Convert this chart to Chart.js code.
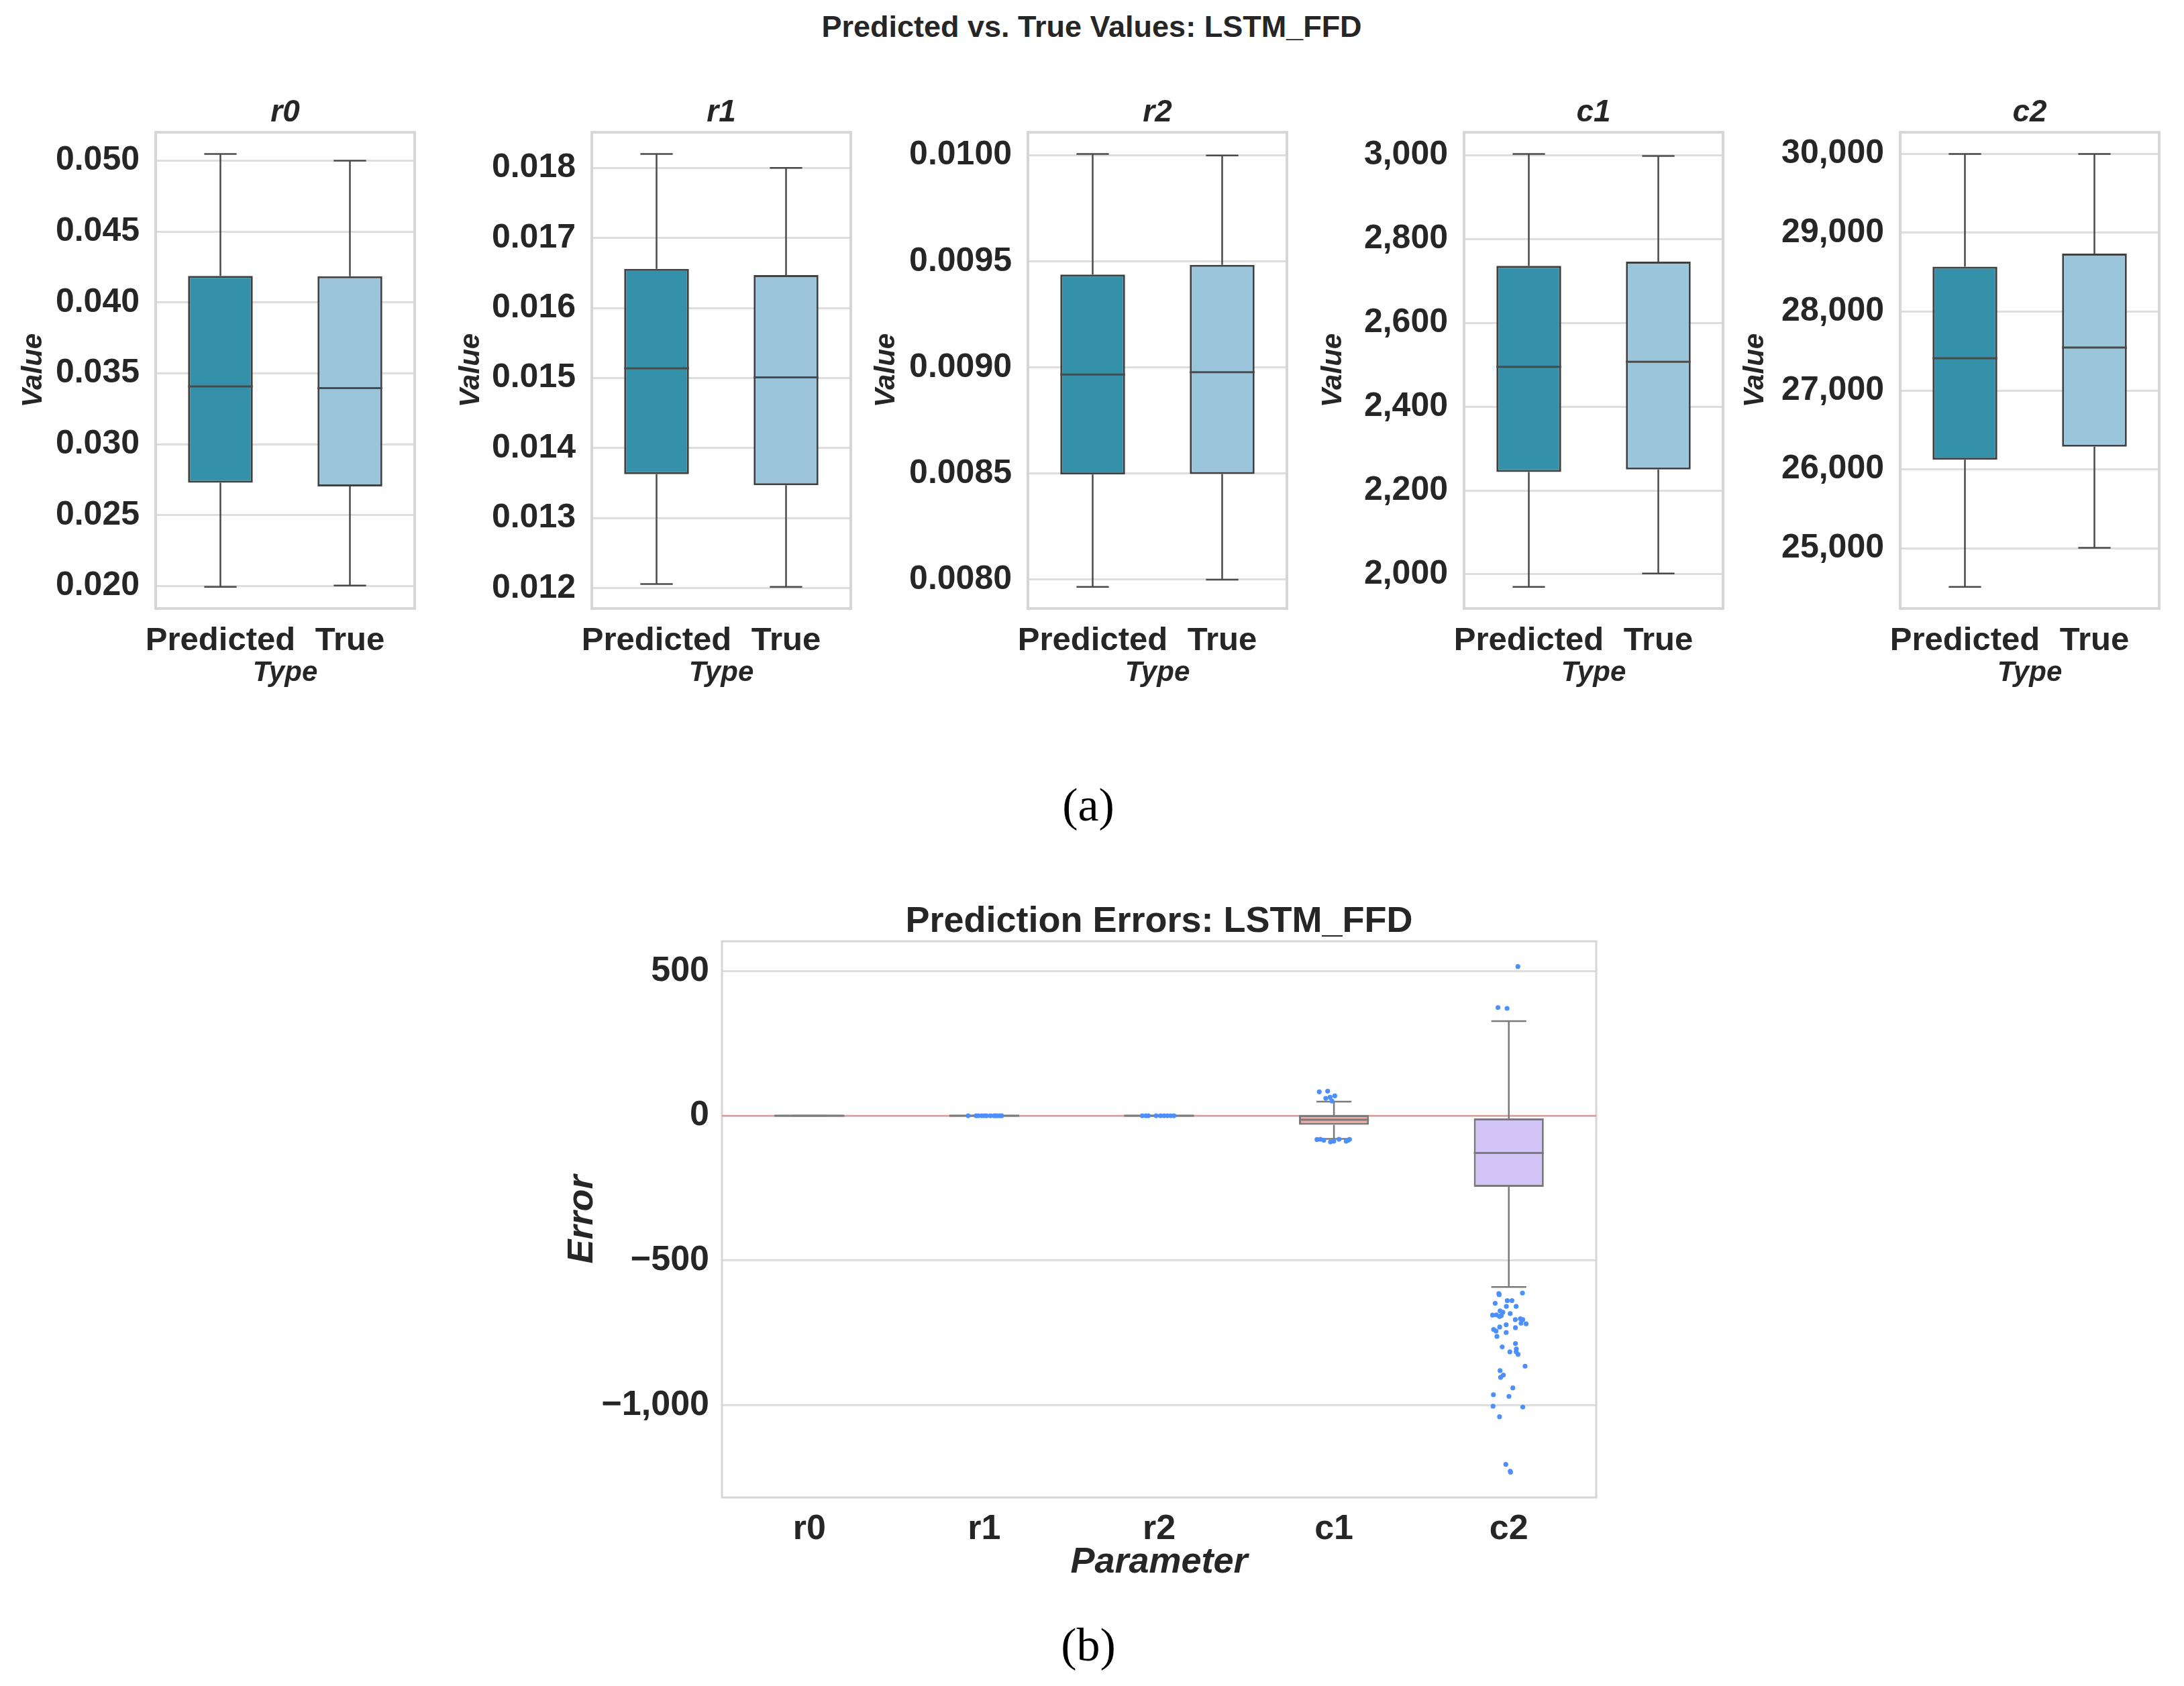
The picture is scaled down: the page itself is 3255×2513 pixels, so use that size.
<!DOCTYPE html>
<html>
<head>
<meta charset="utf-8">
<title>Predicted vs. True Values: LSTM_FFD</title>
<script src="https://cdn.jsdelivr.net/npm/chart.js@4.4.1/dist/chart.umd.min.js"></script>
<style>
  html, body { margin: 0; padding: 0; background: #fff; }
  body { width: 3255px; height: 2513px; position: relative; overflow: hidden;
         font-family: 'Liberation Sans', Arial, sans-serif; color: #262626; }
  .panel { position: absolute; }
  #suptitle { position: absolute; left: 1627px; top: 17px; transform: translateX(-50%);
              font-weight: bold; font-size: 45px; line-height: 1; white-space: nowrap; }
  .caption { position: absolute; left: 1622px; transform: translateX(-50%);
             font-family: 'Liberation Serif', 'DejaVu Serif', serif; font-size: 70px; line-height: 1; color: #000; }
</style>
</head>
<body>
<div id="suptitle">Predicted vs. True Values: LSTM_FFD</div>
<div id="panels"></div>
<div class="panel" style="left:820px; top:1330px; width:1579px; height:1042px;"><canvas id="errChart"></canvas></div>
<div class="caption" style="top:1165px;">(a)</div>
<div class="caption" style="top:2417px;">(b)</div>

<script>
// ─── Data: panel (a) ───
const params = ['r0', 'r1', 'r2', 'c1', 'c2'];
const types = ['Predicted', 'True'];

// [lower whisker, Q1, median, Q3, upper whisker]
const predictedStats = [
    [0.01994, 0.02728, 0.03408, 0.04187, 0.05047],
    [0.01206, 0.01363, 0.01514, 0.01656, 0.01820],
    [0.007966, 0.008496, 0.008967, 0.009438, 0.010007],
    [1970, 2244, 2495, 2736, 3003],
    [24510, 26122, 27409, 28571, 30000]
];
const trueStats = [
    [0.02003, 0.02703, 0.03396, 0.04184, 0.05000],
    [0.01202, 0.01347, 0.01501, 0.01647, 0.01800],
    [0.00800, 0.008498, 0.008978, 0.009484, 0.01000],
    [2002, 2250, 2507, 2746, 2998],
    [25006, 26287, 27546, 28736, 30000]
];
const valueTicks = [
    [0.020, 0.025, 0.030, 0.035, 0.040, 0.045, 0.050],
    [0.012, 0.013, 0.014, 0.015, 0.016, 0.017, 0.018],
    [0.0080, 0.0085, 0.0090, 0.0095, 0.0100],
    [2000, 2200, 2400, 2600, 2800, 3000],
    [25000, 26000, 27000, 28000, 29000, 30000]
];
const tickDecimals = [3, 3, 4, 0, 0];

// ─── Data: panel (b) ───
const errLow = [0, 0, 0, -79.6, -591.4];
const errQ1 = [0, 0, 0, -30.9, -245.8];
const errMedian = [0, 0, 0, -13.9, -128.5];
const errQ3 = [0, 0, 0, 2.3, -9.3];
const errHigh = [0, 0, 0, 48.7, 327];
const errTicks = [-1000, -500, 0, 500];

// outliers: [jitter from category centre, error]
const r1Outliers = [[-0.092, 0], [-0.047, 0], [-0.034, 0], [-0.015, 0], [0.000, 0], [0.013, 0],
                    [0.036, 0], [0.056, 0], [0.064, 0], [0.075, 0], [0.088, 0], [0.100, 0]];
const r2Outliers = [[-0.096, 0], [-0.075, 0], [-0.062, 0], [-0.017, 0], [0.008, 0], [0.028, 0],
                    [0.047, 0], [0.066, 0], [0.085, 0]];
const c1Outliers = [[-0.084, 82.8], [-0.036, 85.1], [-0.047, 60.3], [-0.022, 64.2], [0.005, 68.9], [-0.012, 51],
                    [-0.097, -81.9], [-0.078, -81.1], [-0.058, -84.2], [-0.020, -90.4], [-0.001, -88.1],
                    [0.029, -81.1], [0.070, -88.1], [0.089, -81.5], [0.080, -84.2]];
const c2Outliers = [[0.052, 515.5], [-0.062, 374], [-0.010, 371],
    [-0.057, -614.6], [-0.055, -618], [0.078, -612.3], [-0.078, -647.9], [-0.009, -638.6], [0.018, -638.6],
    [-0.014, -658.6], [0.042, -658.6], [-0.050, -674.1], [-0.034, -678.8], [-0.093, -688.7], [-0.071, -688.0],
    [-0.053, -693.4], [-0.043, -690.3], [0.008, -683.4], [0.037, -704.3], [0.066, -701.2], [0.080, -704.3],
    [0.070, -716.6], [0.099, -718.9], [-0.015, -722.1], [-0.052, -729.8], [0.038, -732.1], [-0.087, -738.3],
    [-0.073, -743.7], [-0.015, -749.0], [-0.068, -762.3], [0.038, -787.0], [-0.038, -798.6], [0.043, -805.6],
    [0.006, -815.6], [0.042, -815.3], [0.053, -824.2], [0.093, -865.0], [-0.050, -880.5], [-0.031, -896.0],
    [-0.047, -903.7], [0.023, -940.1], [-0.088, -964.0], [0.001, -969.3], [-0.090, -1003.4], [0.080, -1006.4],
    [-0.053, -1039.8], [-0.017, -1204.5], [0.010, -1231.4], [0.008, -1228]];

// ─── Style ───
const INK = '#262626';
const PRED_COLOR = '#3591a9';
const TRUE_COLOR = '#9bc5db';
const BOX_COLORS = ['#a9c9ec', '#f6b88f', '#9cdcab', '#f2aaa7', '#d3c4f7'];
const DOT_COLOR = '#4d8ffc';

Chart.defaults.font.family = "'Liberation Sans', Arial, sans-serif";
Chart.defaults.color = INK;
Chart.defaults.animation = false;
Chart.defaults.plugins.legend.display = false;
Chart.defaults.plugins.tooltip.enabled = false;

// ─── Plugins ───
function framePlugin(color, width) {
    return {
        id: 'frame',
        beforeDatasetsDraw(chart) {
            const { ctx, chartArea: a } = chart;
            ctx.save();
            ctx.strokeStyle = color;
            ctx.lineWidth = width;
            ctx.strokeRect(a.left, a.top, a.right - a.left, a.bottom - a.top);
            ctx.restore();
        }
    };
}

// whiskers, caps and median for each box, drawn right after the bar dataset
function whiskerPlugin(stats, color, whiskerWidth, medianWidth) {
    return {
        id: 'whiskers',
        afterDatasetDraw(chart, args) {
            if (args.meta.type !== 'bar') return;
            const y = chart.scales.y;
            const ctx = chart.ctx;
            args.meta.data.forEach((bar, i) => {
                const [lo, q1, med, q3, hi] = stats[i];
                const half = bar.width / 2;
                ctx.save();
                ctx.strokeStyle = color;
                ctx.lineWidth = whiskerWidth;
                ctx.beginPath();
                ctx.moveTo(bar.x, y.getPixelForValue(q3));
                ctx.lineTo(bar.x, y.getPixelForValue(hi));
                ctx.moveTo(bar.x, y.getPixelForValue(q1));
                ctx.lineTo(bar.x, y.getPixelForValue(lo));
                ctx.moveTo(bar.x - half / 2, y.getPixelForValue(hi));
                ctx.lineTo(bar.x + half / 2, y.getPixelForValue(hi));
                ctx.moveTo(bar.x - half / 2, y.getPixelForValue(lo));
                ctx.lineTo(bar.x + half / 2, y.getPixelForValue(lo));
                ctx.stroke();
                ctx.lineWidth = medianWidth;
                ctx.beginPath();
                ctx.moveTo(bar.x - half, y.getPixelForValue(med));
                ctx.lineTo(bar.x + half, y.getPixelForValue(med));
                ctx.stroke();
                ctx.restore();
            });
        }
    };
}

const zeroLinePlugin = {
    id: 'zeroLine',
    beforeDatasetsDraw(chart) {
        const { ctx, chartArea: a, scales } = chart;
        const y0 = scales.y.getPixelForValue(0);
        ctx.save();
        ctx.strokeStyle = 'rgba(214, 80, 80, 0.45)';
        ctx.lineWidth = 2.5;
        ctx.beginPath();
        ctx.moveTo(a.left, y0);
        ctx.lineTo(a.right, y0);
        ctx.stroke();
        ctx.restore();
    }
};

function formatValue(v, decimals) {
    if (decimals > 0) return v.toFixed(decimals);
    return Math.round(v).toLocaleString('en-US');
}

function paddedRange(lo, hi) {
    const pad = (hi - lo) * 0.05;
    return [lo - pad, hi + pad];
}

// ─── Panel (a): five small box plots ───
const plotLefts = [232, 882, 1532, 2182, 2832];
const yLabelCentres = [68, 70, 39, 55, 34];   // from the panel's left edge
const Y_AXIS_W = 250;

params.forEach((p, i) => {
    const holder = document.createElement('div');
    holder.className = 'panel';
    holder.style.cssText = `left:${plotLefts[i] - Y_AXIS_W}px; top:140px; width:646px; height:897px;`;
    const canvas = document.createElement('canvas');
    holder.appendChild(canvas);
    document.getElementById('panels').appendChild(holder);

    const stats = [predictedStats[i], trueStats[i]];
    const [yMin, yMax] = paddedRange(Math.min(...stats.map(s => s[0])), Math.max(...stats.map(s => s[4])));

    new Chart(canvas, {
        type: 'bar',
        data: {
            labels: types,
            datasets: [{
                data: stats.map(s => [s[1], s[3]]),
                backgroundColor: [PRED_COLOR, TRUE_COLOR],
                borderColor: '#404040',
                borderWidth: 3,
                borderSkipped: false,
                barPercentage: 0.5,
                categoryPercentage: 1
            }]
        },
        options: {
            responsive: true,
            maintainAspectRatio: false,
            layout: { padding: { left: 0, right: 10, top: 0, bottom: 0 } },
            plugins: {
                title: {
                    display: true, text: p, fullSize: false, color: INK,
                    font: { size: 46, style: 'italic', weight: 'bold', lineHeight: 1.2 },
                    padding: { top: 1, bottom: 1 }
                }
            },
            scales: {
                x: {
                    grid: { display: false },
                    border: { display: false },
                    ticks: { font: { size: 49, weight: 'bold' }, color: INK, padding: 11, maxRotation: 0, autoSkip: false },
                    title: {
                        display: true, text: 'Type', color: INK,
                        font: { size: 42, style: 'italic', weight: 'bold', lineHeight: 1.2 },
                        padding: { top: 0, bottom: 8 }
                    },
                    afterFit: s => { s.height = 130; }
                },
                y: {
                    min: yMin, max: yMax, bounds: 'data',
                    afterBuildTicks: s => { s.ticks = valueTicks[i].map(v => ({ value: v })); },
                    grid: { color: '#dedede', lineWidth: 3, drawTicks: false },
                    border: { display: false },
                    ticks: { font: { size: 50, weight: 'bold' }, color: INK, padding: 24,
                             callback: v => formatValue(v, tickDecimals[i]) },
                    title: {
                        display: true, text: 'Value', color: INK,
                        font: { size: 42, style: 'italic', weight: 'bold', lineHeight: 1.2 },
                        padding: { top: Math.max(0, yLabelCentres[i] - 25.2), bottom: 0 }
                    },
                    afterFit: s => { s.width = Y_AXIS_W; }
                }
            }
        },
        plugins: [framePlugin('#d6d6d6', 4), whiskerPlugin(stats, '#4a4a4a', 2.5, 3)]
    });
});

// ─── Panel (b): prediction errors ───
const errStats = params.map((p, i) => [errLow[i], errQ1[i], errMedian[i], errQ3[i], errHigh[i]]);
const outlierPoints = [
    ...r1Outliers.map(([j, v]) => ({ x: 1 + j, y: v })),
    ...r2Outliers.map(([j, v]) => ({ x: 2 + j, y: v })),
    ...c1Outliers.map(([j, v]) => ({ x: 3 + j, y: v })),
    ...c2Outliers.map(([j, v]) => ({ x: 4 + j, y: v }))
];
const allErr = errLow.concat(errHigh, outlierPoints.map(o => o.y));
const [errMin, errMax] = paddedRange(Math.min(...allErr), Math.max(...allErr));

new Chart(document.getElementById('errChart'), {
    type: 'bar',
    data: {
        datasets: [
            {
                type: 'scatter',
                data: outlierPoints,
                backgroundColor: DOT_COLOR,
                borderWidth: 0,
                pointRadius: 3.6
            },
            {
                type: 'bar',
                data: params.map((p, i) => ({ x: i, y: [errQ1[i], errQ3[i]] })),
                backgroundColor: BOX_COLORS,
                borderColor: '#7a7a7a',
                borderWidth: 3,
                borderSkipped: false,
                barPercentage: 0.4,
                categoryPercentage: 1
            }
        ]
    },
    options: {
        responsive: true,
        maintainAspectRatio: false,
        layout: { padding: { left: 0, right: 20, top: 0, bottom: 0 } },
        plugins: {
            title: {
                display: true, text: 'Prediction Errors: LSTM_FFD', fullSize: false, color: INK,
                font: { size: 54, weight: 'bold', lineHeight: 1.0 },
                padding: { top: 17, bottom: 2 }
            }
        },
        scales: {
            x: {
                type: 'linear', min: -0.5, max: 4.5, offset: false,
                afterBuildTicks: s => { s.ticks = params.map((p, i) => ({ value: i })); },
                grid: { display: false, offset: false },
                border: { display: false },
                ticks: { font: { size: 52, weight: 'bold' }, color: INK, padding: 8, maxRotation: 0,
                         autoSkip: false, callback: v => params[v] },
                title: {
                    display: true, text: 'Parameter', color: INK,
                    font: { size: 54, style: 'italic', weight: 'bold', lineHeight: 1.2 },
                    padding: { top: 0, bottom: 10 }
                },
                afterFit: s => { s.height = 140; }
            },
            y: {
                min: errMin, max: errMax, bounds: 'data',
                afterBuildTicks: s => { s.ticks = errTicks.map(v => ({ value: v })); },
                grid: { color: '#dedede', lineWidth: 3, drawTicks: false },
                border: { display: false },
                ticks: { font: { size: 52, weight: 'bold' }, color: INK, padding: 19,
                         callback: v => (v < 0 ? '\u2212' : '') + Math.abs(v).toLocaleString('en-US') },
                title: {
                    display: true, text: 'Error', color: INK,
                    font: { size: 54, style: 'italic', weight: 'bold', lineHeight: 1.2 },
                    padding: { top: 15.6, bottom: 0 }
                },
                afterFit: s => { s.width = 256; }
            }
        }
    },
    plugins: [framePlugin('#d6d6d6', 3), zeroLinePlugin, whiskerPlugin(errStats, '#7a7a7a', 2.5, 3)]
});
</script>
</body>
</html>
